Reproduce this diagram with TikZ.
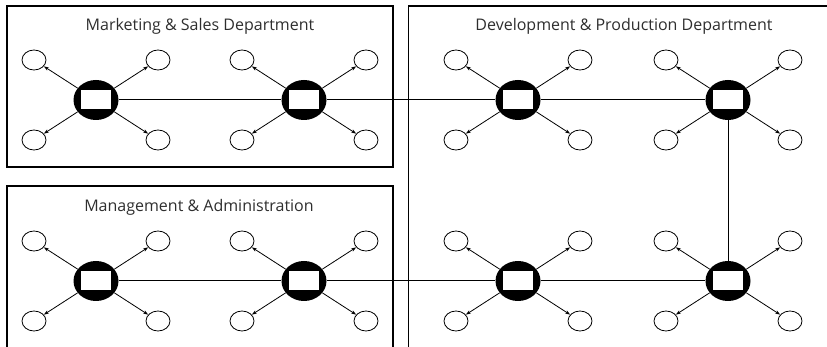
\documentclass[tikz,border=0pt]{standalone}
\usepackage{fontspec}
\setmainfont{Open Sans}
\usetikzlibrary{arrows.meta,shapes.geometric}
\definecolor{titlegray}{HTML}{2E2E2E}
\tikzset{
  hub/.style={ellipse,fill=black,minimum width=45pt,minimum height=40pt,inner sep=0pt},
  hubrect/.style={rectangle,fill=white,minimum width=30pt,minimum height=19pt,inner sep=0pt},
  sat/.style={ellipse,draw,line width=0.8pt,minimum width=24pt,minimum height=20pt,inner sep=0pt},
  arr/.style={line width=0.8pt,-{Stealth[length=5pt,width=3.5pt]}},
  link/.style={line width=1pt},
  frame/.style={line width=1.1pt},
  title/.style={text=titlegray,font=\fontsize{16}{19}\selectfont}
}
\newcommand\hubcluster[3]{%
  \node[hub] (#1) at (#2,#3) {};
  \node[hubrect] (#1r) at (#2,#3) {};
  \node[sat] (#1a) at (#2-62,#3-40) {};
  \node[sat] (#1b) at (#2+62,#3-40) {};
  \node[sat] (#1c) at (#2-62,#3+40) {};
  \node[sat] (#1d) at (#2+62,#3+40) {};
  \draw[arr] (#1) -- (#1a);
  \draw[arr] (#1) -- (#1b);
  \draw[arr] (#1) -- (#1c);
  \draw[arr] (#1) -- (#1d);
}
\begin{document}
\begin{tikzpicture}[x=1pt,y=-1pt]
\useasboundingbox (0,0) rectangle (827,347);
% frames
\draw[frame] (7,6) rectangle (393,167);
\draw[frame] (827,6) -- (408.5,6) -- (408.5,347);
\draw[frame] (7,347) -- (7,186) -- (393,186) -- (393,347);
% titles
\node[title] (t1) at (200,26) {Marketing \& Sales Department};
\node[title] (t2) at (624,26) {Development \& Production Department};
\node[title] (t3) at (199,207) {Management \& Administration};
% clusters
\hubcluster{h1}{96}{100}
\hubcluster{h2}{304}{100}
\hubcluster{h3}{518}{100}
\hubcluster{h4}{728}{100}
\hubcluster{h5}{96}{281}
\hubcluster{h6}{304}{281}
\hubcluster{h7}{518}{281}
\hubcluster{h8}{728}{281}
% links
\draw[link] (h1) -- (h2);
\draw[link] (h2) -- (h3);
\draw[link] (h3) -- (h4);
\draw[link] (h5) -- (h6);
\draw[link] (h6) -- (h7);
\draw[link] (h7) -- (h8);
\draw[link] (h4) -- (h8);
\end{tikzpicture}
\end{document}
